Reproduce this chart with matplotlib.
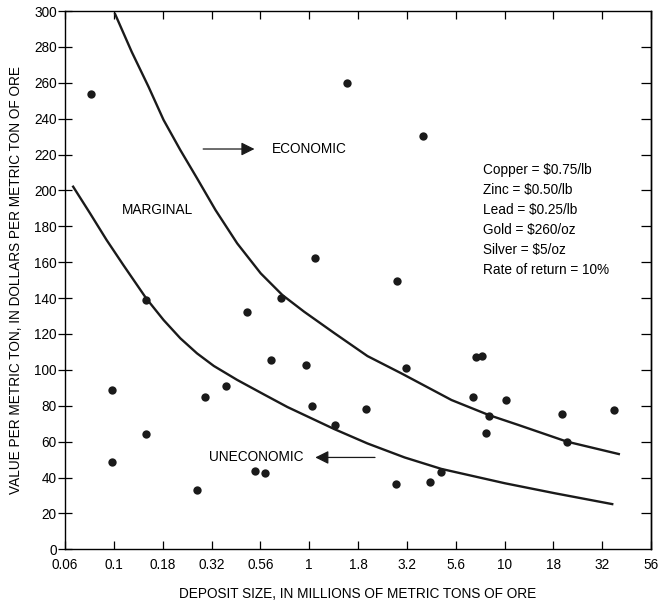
import numpy as np
import matplotlib
matplotlib.use("Agg")
import matplotlib.pyplot as plt

plt.rcParams['font.family'] = ['Liberation Sans', 'DejaVu Sans']
FS = 9.8

# deposits: size (million metric tons) and value ($ per metric ton)
size = [0.076, 1.57, 3.81, 1.065, 0.1465, 0.478, 0.721, 2.83, 0.0975, 0.293,
        0.374, 0.636, 0.962, 3.14, 1.028, 1.96, 1.35, 0.1465, 0.0975, 0.267,
        0.526, 0.594, 2.78, 4.17, 4.73, 7.11, 7.69, 6.89, 10.15, 8.36,
        8.07, 19.6, 21.0, 36.4]
value = [253.6, 259.7, 230.3, 162.3, 138.9, 132.3, 140.1, 149.5, 88.9, 84.7,
         91.0, 105.5, 102.9, 101.2, 79.6, 78.0, 69.3, 64.1, 48.7, 33.0,
         43.4, 42.5, 36.4, 37.3, 43.2, 107.2, 107.9, 84.9, 83.0, 74.5,
         65.0, 75.4, 59.8, 77.8]

# economic / marginal boundary
upper_x = [0.1015, 0.1235, 0.1505, 0.1797, 0.219, 0.2666, 0.3314, 0.4281, 0.5648,
           0.7293, 0.9428, 1.345, 1.988, 2.972, 5.355, 8.325, 11.78, 20.89, 38.47]
upper_y = [298.3, 277.2, 257.8, 239.3, 222.5, 206.8, 189.1, 170.5, 153.8,
           141.7, 132.4, 120.5, 107.7, 98.0, 83.2, 74.8, 69.3, 60.0, 53.1]

# marginal / uneconomic boundary
lower_x = [0.0619, 0.0755, 0.0918, 0.1119, 0.1464, 0.1797, 0.219, 0.2666, 0.3249,
           0.4281, 0.5871, 0.7738, 1.345, 1.988, 3.08, 4.755, 10.06, 18.19, 35.6]
lower_y = [202.1, 187.3, 172.4, 158.4, 139.9, 127.8, 117.6, 109.2, 102.2,
           94.4, 86.3, 79.3, 67.0, 59.0, 51.2, 44.8, 36.8, 31.2, 25.2]

xtick_vals = [10 ** (k / 4) for k in range(-5, 8)]
xtick_labels = ['0.06', '0.1', '0.18', '0.32', '0.56', '1', '1.8', '3.2', '5.6', '10', '18', '32', '56']
yticks = list(range(0, 301, 20))

prices = ['Copper = $0.75/lb', 'Zinc = $0.50/lb', 'Lead = $0.25/lb',
          'Gold = $260/oz', 'Silver = $5/oz', 'Rate of return = 10%']

fig = plt.figure(figsize=(6.62, 6.09), dpi=100)
ax = fig.add_axes([0.0982, 0.098, 0.8852, 0.8839])

ax.set_xscale('log')
ax.set_xlim(10 ** -1.25, 10 ** 1.75)
ax.set_ylim(0, 300)

ax.plot(upper_x, upper_y, color='#1a1a1a', lw=1.7, solid_joinstyle='round')
ax.plot(lower_x, lower_y, color='#1a1a1a', lw=1.7, solid_joinstyle='round')
ax.plot(size, value, 'o', color='#1a1a1a', ms=6.0, mec='none')

ax.set_xticks(xtick_vals)
ax.set_xticklabels(xtick_labels)
ax.xaxis.set_minor_locator(matplotlib.ticker.NullLocator())
ax.set_yticks(yticks)
ax.tick_params(axis='x', direction='in', length=6, width=0.9, top=True,
               labelsize=FS, pad=6)
ax.tick_params(axis='y', direction='inout', length=10, width=0.9, right=False,
               labelsize=FS, pad=1)
for s in ax.spines.values():
    s.set_linewidth(1.0)

# right side ticks point inward only
ay = ax.secondary_yaxis('right')
ay.set_yticks(yticks[1:-1])
ay.tick_params(direction='in', length=7, width=0.9, labelright=False)
ay.spines['right'].set_linewidth(1.0)

ax.set_xlabel('DEPOSIT SIZE, IN MILLIONS OF METRIC TONS OF ORE', fontsize=FS, labelpad=11)
ax.set_ylabel('VALUE PER METRIC TON, IN DOLLARS PER METRIC TON OF ORE', fontsize=FS, labelpad=8)

ax.text(0.643, 223.1, 'ECONOMIC', fontsize=FS, va='center', ha='left')
ax.annotate('', xy=(0.5423, 223.1), xytext=(0.2774, 223.1),
            arrowprops=dict(arrowstyle='-|>', color='#1a1a1a', lw=0.9, mutation_scale=20))
ax.text(0.1097, 189.1, 'MARGINAL', fontsize=FS, va='center', ha='left')
ax.text(0.306, 51.2, 'UNECONOMIC', fontsize=FS, va='center', ha='left')
ax.annotate('', xy=(1.04, 51.2), xytext=(2.245, 51.2),
            arrowprops=dict(arrowstyle='-|>', color='#1a1a1a', lw=0.9, mutation_scale=20))

for i, line in enumerate(prices):
    ax.text(7.78, 211.4 - i * 11.1, line, fontsize=FS, va='center', ha='left')

fig.savefig('out.png', dpi=100)
